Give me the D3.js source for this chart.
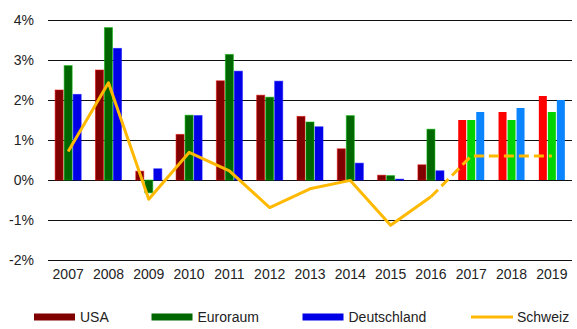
<!DOCTYPE html>
<html>
<head>
<meta charset="utf-8">
<script src="https://cdn.jsdelivr.net/npm/d3@7"></script>
<style>
  html, body { margin: 0; padding: 0; background: #fff; }
  svg { display: block; font-family: "Liberation Sans", Arial, sans-serif; }
</style>
</head>
<body>
<svg id="chart" width="577" height="329"></svg>
<script>
// Teuerung (Veränderung gegenüber Vorjahr, in %), ab 2017 Prognose
const years = ["2007","2008","2009","2010","2011","2012","2013","2014","2015","2016","2017","2018","2019"];
const usa         = [2.25, 2.75, 0.22, 1.14, 2.48, 2.12, 1.59, 0.78, 0.12, 0.38, 1.5, 1.7, 2.1];
const euroraum    = [2.86, 3.81, -0.32, 1.62, 3.14, 2.07, 1.45, 1.61, 0.11, 1.27, 1.5, 1.5, 1.7];
const deutschland = [2.14, 3.29, 0.28, 1.61, 2.72, 2.47, 1.33, 0.42, 0.02, 0.23, 1.7, 1.8, 2.0];
const schweiz     = [0.71, 2.43, -0.48, 0.69, 0.23, -0.69, -0.22, -0.01, -1.13, -0.42, 0.6, 0.6, 0.6];
const yTicks = [-2, -1, 0, 1, 2, 3, 4];
const firstForecast = "2017";
const lastActual = "2016";

const seriesNames = ["USA", "Euroraum", "Deutschland"];
const seriesValues = [usa, euroraum, deutschland];
const colActual   = ["#800000", "#006600", "#0000e6"];
const colForecast = ["#ff0000", "#00d400", "#0a84ff"];
const lineColor = "#ffb900";

const svg = d3.select("#chart");
const plotLeft = 48, plotRight = 572, plotTop = 20, plotBottom = 260;

const y = d3.scaleLinear().domain([-2, 4]).range([plotBottom, plotTop]);
const x = d3.scaleBand().domain(years).range([plotLeft, plotRight])
  .paddingInner(0.33).paddingOuter(0.165);
const xs = d3.scaleBand().domain(seriesNames).range([0, x.bandwidth()]);

// Gitterlinien und Beschriftung der y-Achse
const yAxis = svg.append("g")
  .attr("transform", `translate(${plotLeft},0)`)
  .call(d3.axisLeft(y).tickValues(yTicks).tickSize(-(plotRight - plotLeft)).tickPadding(14)
    .tickFormat(d => d + "%"));
yAxis.select(".domain").remove();
yAxis.selectAll(".tick line").attr("stroke", "#111").attr("stroke-width", 1);
yAxis.selectAll(".tick text").attr("font-size", 14).attr("fill", "#222")
  .attr("font-family", "Liberation Sans, Arial, sans-serif");

// Jahre
const xAxis = svg.append("g")
  .attr("transform", `translate(0,${plotBottom})`)
  .call(d3.axisBottom(x).tickSize(0).tickPadding(9));
xAxis.select(".domain").remove();
xAxis.selectAll(".tick text").attr("font-size", 14).attr("fill", "#222")
  .attr("font-family", "Liberation Sans, Arial, sans-serif");

// Säulen
const rows = [];
years.forEach((yr, i) => {
  seriesNames.forEach((s, k) => {
    rows.push({ year: yr, series: s, k, value: seriesValues[k][i],
      forecast: yr >= firstForecast });
  });
});
svg.append("g").selectAll("rect").data(rows).join("rect")
  .attr("x", d => x(d.year) + xs(d.series) + 0.5)
  .attr("width", xs.bandwidth() - 1)
  .attr("y", d => y(Math.max(0, d.value)))
  .attr("height", d => Math.abs(y(d.value) - y(0)))
  .attr("fill", d => d.forecast ? colForecast[d.k] : colActual[d.k])
  .attr("stroke", d => d.forecast ? "none" : d3.color(colActual[d.k]).brighter(1.6))
  .attr("stroke-opacity", 0.55)
  .attr("stroke-width", 1);

// Schweiz: Linie, Prognose gestrichelt
const pts = years.map((yr, i) => ({ year: yr, value: schweiz[i] }));
const line = d3.line().x(d => x(d.year) + x.bandwidth() / 2).y(d => y(d.value));
const cut = years.indexOf(lastActual);
svg.append("path").datum(pts.slice(0, cut + 1))
  .attr("d", line).attr("fill", "none").attr("stroke", lineColor)
  .attr("stroke-width", 3).attr("stroke-linejoin", "round");
svg.append("path").datum(pts.slice(cut))
  .attr("d", line).attr("fill", "none").attr("stroke", lineColor)
  .attr("stroke-width", 3).attr("stroke-dasharray", "10,5");

// Legende
const legend = svg.append("g").attr("font-size", 14).attr("fill", "#222");
const items = [
  { name: "USA", color: colActual[0], x: 34, type: "bar" },
  { name: "Euroraum", color: colActual[1], x: 151.5, type: "bar" },
  { name: "Deutschland", color: colActual[2], x: 302.5, type: "bar" },
  { name: "Schweiz", color: lineColor, x: 471, type: "line" }
];
const ly = 317;
items.forEach(it => {
  if (it.type === "bar") {
    legend.append("rect").attr("x", it.x).attr("y", ly - 3.5)
      .attr("width", 41).attr("height", 7).attr("fill", it.color);
  } else {
    legend.append("line").attr("x1", it.x).attr("x2", it.x + 42)
      .attr("y1", ly).attr("y2", ly).attr("stroke", it.color).attr("stroke-width", 3);
  }
  legend.append("text").attr("x", it.x + 46).attr("y", ly + 5)
    .attr("fill", "#222").text(it.name);
});
</script>
</body>
</html>
